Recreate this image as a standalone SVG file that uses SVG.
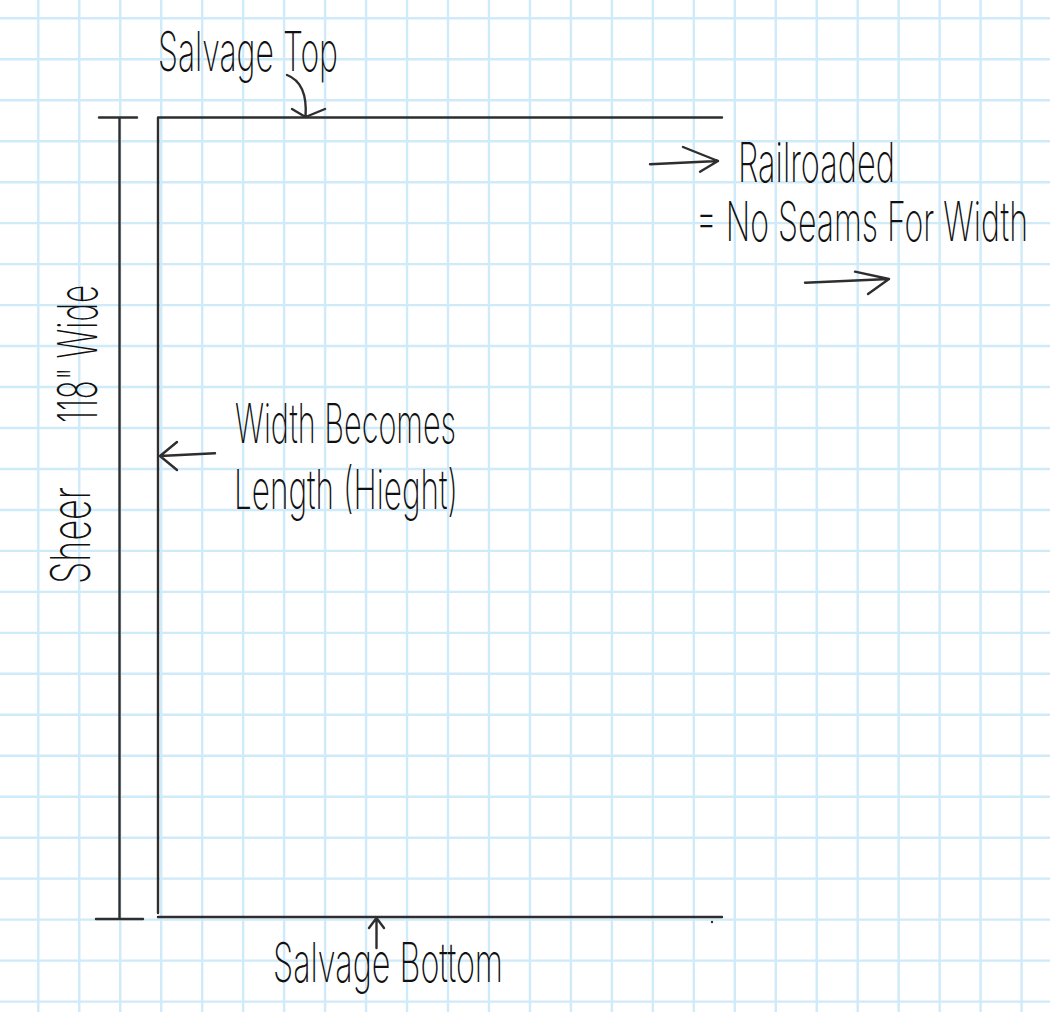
<svg xmlns="http://www.w3.org/2000/svg" width="1050" height="1020" viewBox="0 0 1050 1020">
<style>
.grid{stroke:#cfeaf9;stroke-width:2.4;fill:none}
.pen{stroke:#2e2e2e;stroke-width:2.4;fill:none;stroke-linecap:round;stroke-linejoin:round}
.hand{font-family:"Inter","Lato","DejaVu Sans",sans-serif;font-weight:200;font-size:55px;fill:#111}
</style>
<rect width="1050" height="1020" fill="#ffffff"/>
<g id="grid">
<path class="grid" d="M38.3 0V1012M79.27 0V1012M120.24 0V1012M161.21 0V1012M202.18 0V1012M243.15 0V1012M284.12 0V1012M325.09 0V1012M366.06 0V1012M407.03 0V1012M448 0V1012M488.97 0V1012M529.94 0V1012M570.91 0V1012M611.88 0V1012M652.85 0V1012M693.82 0V1012M734.79 0V1012M775.76 0V1012M816.73 0V1012M857.7 0V1012M898.67 0V1012M939.64 0V1012M980.61 0V1012M1021.58 0V1012"/>
<path class="grid" d="M0 18.3H1050M0 59.27H1050M0 100.24H1050M0 141.21H1050M0 182.18H1050M0 223.15H1050M0 264.12H1050M0 305.09H1050M0 346.06H1050M0 387.03H1050M0 428H1050M0 468.97H1050M0 509.94H1050M0 550.91H1050M0 591.88H1050M0 632.85H1050M0 673.82H1050M0 714.79H1050M0 755.76H1050M0 796.73H1050M0 837.7H1050M0 878.67H1050M0 919.64H1050M0 960.61H1050M0 1001.58H1050"/>
</g>
<g id="fabric">
<path class="pen" d="M158 117.5H722M158 117.5V913M158 917H722"/>
<circle cx="712" cy="922" r="1.2" fill="#2e2e2e"/>
</g>
<g id="dimension">
<path class="pen" d="M99 117.5H137M119.5 117.5V919M96 919H143"/>
<text class="hand" transform="translate(97,423) rotate(-90)" font-size="51" textLength="138" lengthAdjust="spacingAndGlyphs">118" Wide</text>
<text class="hand" transform="translate(90,584) rotate(-90)" font-size="66" textLength="97" lengthAdjust="spacingAndGlyphs">Sheer</text>
</g>
<g id="salvage-top">
<text class="hand" x="158" y="71" textLength="180" lengthAdjust="spacingAndGlyphs">Salvage Top</text>
</g>
<g id="railroaded">
<text class="hand" x="738" y="182" font-size="48" textLength="157" lengthAdjust="spacingAndGlyphs">Railroaded</text>
<text class="hand" x="696" y="241" font-size="48" textLength="332" lengthAdjust="spacingAndGlyphs">= No Seams For Width</text>
</g>
<g id="width-becomes">
<text class="hand" x="235" y="443" textLength="221" lengthAdjust="spacingAndGlyphs">Width Becomes</text>
<text class="hand" x="234" y="509" textLength="224" lengthAdjust="spacingAndGlyphs">Length (Hieght)</text>
</g>
<g id="salvage-bottom">
<text class="hand" x="273" y="982" textLength="230" lengthAdjust="spacingAndGlyphs">Salvage Bottom</text>
</g>
<g id="connectors">
<path class="pen" d="M287 75Q308 83 305.5 117M292 109L305.5 117L325 109"/>
<path class="pen" d="M650 164.3L718 161M683 147L718 161L700 171.7"/>
<path class="pen" d="M805 282.7L889 279M855 271.7L889 279L868 294"/>
<path class="pen" d="M215 453.3L160 456M177 442L160 456L177 470"/>
<path class="pen" d="M376.5 948V918M369 928L376.5 918L384 928"/>
</g>
</svg>
